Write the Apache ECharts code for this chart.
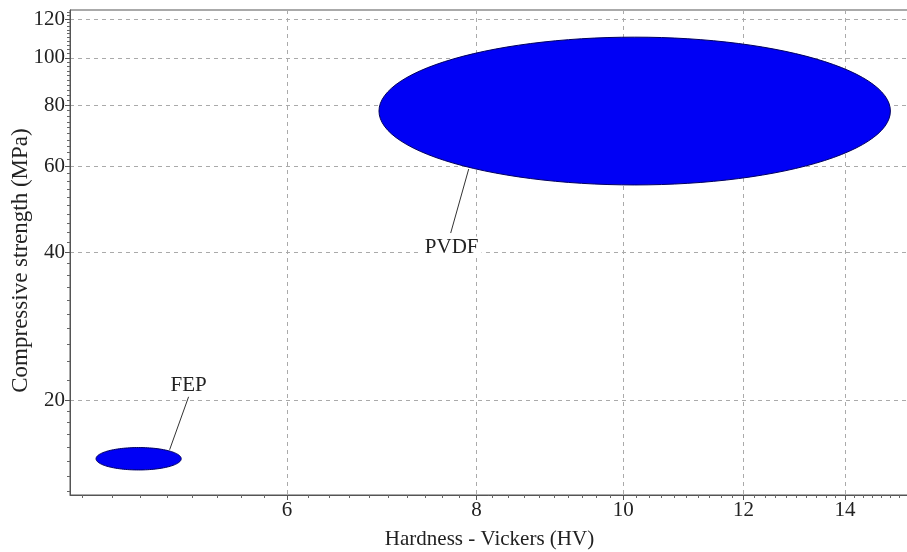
<!DOCTYPE html>
<html><head><meta charset="utf-8">
<script src="https://cdn.jsdelivr.net/npm/echarts@6/dist/echarts.min.js"></script>
<style>html,body{margin:0;padding:0;background:#fff}#c{width:907px;height:552px}</style>
</head><body><div id="c"></div>
<script>
// ---- data ----
const materials    = ['FEP', 'PVDF'];
const hardnessLow  = [4.49, 6.90];   // HV
const hardnessHigh = [5.11, 15.0];   // HV
const strengthLow  = [14.4, 55.0];   // MPa
const strengthHigh = [16.0, 110.2];  // MPa
const xTickValues  = [6, 8, 10, 12, 14];
const yTickValues  = [20, 40, 60, 80, 100, 120];
const xRange       = [4.316, 15.43];
const yRange       = [12.8, 125.2];

// ---- helpers ----
const lg = v => Math.log10(v);
const FONT = '"Liberation Serif", "Times New Roman", serif';
const TXT = '#222';

// minor tick positions (axis decoration)
const xMinor = [];
for (let v = 4.4; v < 15.4; v += 0.2) {
  const r = Math.round(v * 10) / 10;
  if (!xTickValues.some(t => Math.abs(t - r) < 1e-6)) xMinor.push(r);
}
const yMinor = [];
for (let v = 13; v < 20; v += 1) yMinor.push(v);
for (let v = 22; v < 125; v += 2) if (!yTickValues.includes(v)) yMinor.push(v);

// label / leader offsets relative to ellipse centre (style, px)
const labelStyle = [
  { line: [[31, -9], [50, -62]], text: [50, -73] },
  { line: [[-166, 58], [-184, 122]], text: [-183, 136] }
];

const seriesData = materials.map((m, i) => [
  lg(hardnessLow[i]), lg(hardnessHigh[i]), lg(strengthLow[i]), lg(strengthHigh[i])
]);

function axisCommon(range) {
  return { type: 'value', min: lg(range[0]), max: lg(range[1]) };
}

const chart = echarts.init(document.getElementById('c'), null, { renderer: 'canvas' });
chart.setOption({
  animation: false,
  backgroundColor: '#fff',
  grid: { left: 70, top: 10, right: -2, bottom: 57, show: true, borderColor: '#555', borderWidth: 1,
    containLabel: false, outerBoundsMode: 'none' },
  xAxis: [
    Object.assign(axisCommon(xRange), {
      position: 'bottom',
      name: 'Hardness - Vickers (HV)', nameLocation: 'middle', nameGap: 34, nameMoveOverlap: false,
      nameTextStyle: { fontFamily: FONT, fontSize: 21, color: TXT },
      axisLine: { show: true, lineStyle: { color: '#555' } },
      axisTick: { show: true, customValues: xTickValues.map(lg), length: 5, lineStyle: { color: '#555' } },
      axisLabel: { customValues: xTickValues.map(lg), formatter: v => String(Math.round(Math.pow(10, v))),
        fontFamily: FONT, fontSize: 21, color: TXT, margin: 5 },
      splitLine: { show: true, lineStyle: { type: [4, 4], color: '#aaa', width: 1 } }
    }),
    Object.assign(axisCommon(xRange), {
      position: 'bottom',
      axisLine: { show: false },
      axisTick: { show: true, customValues: xMinor.map(lg), length: 3, lineStyle: { color: '#666' } },
      axisLabel: { show: false },
      splitLine: { show: false }
    })
  ],
  yAxis: [
    Object.assign(axisCommon(yRange), {
      position: 'left',
      name: 'Compressive strength (MPa)', nameLocation: 'middle', nameGap: 38, nameMoveOverlap: false,
      nameTextStyle: { fontFamily: FONT, fontSize: 23, color: TXT, padding: [0, 16, 0, 0] },
      axisLine: { show: true, lineStyle: { color: '#555' } },
      axisTick: { show: true, customValues: yTickValues.map(lg), length: 5, lineStyle: { color: '#555' } },
      axisLabel: { customValues: yTickValues.map(lg), formatter: v => String(Math.round(Math.pow(10, v))),
        fontFamily: FONT, fontSize: 21, color: TXT, margin: 5 },
      splitLine: { show: true, lineStyle: { type: [4, 4], color: '#aaa', width: 1 } }
    }),
    Object.assign(axisCommon(yRange), {
      position: 'left',
      axisLine: { show: false },
      axisTick: { show: true, customValues: yMinor.map(lg), length: 3, lineStyle: { color: '#666' } },
      axisLabel: { show: false },
      splitLine: { show: false }
    })
  ],
  series: [{
    type: 'custom',
    xAxisIndex: 0, yAxisIndex: 0,
    clip: false,
    encode: { x: [0, 1], y: [2, 3] },
    data: seriesData,
    renderItem: function (params, api) {
      const i = params.dataIndex;
      const p1 = api.coord([api.value(0), api.value(2)]);
      const p2 = api.coord([api.value(1), api.value(3)]);
      const cx = (p1[0] + p2[0]) / 2, cy = (p1[1] + p2[1]) / 2;
      const rx = Math.abs(p2[0] - p1[0]) / 2, ry = Math.abs(p2[1] - p1[1]) / 2;
      const pts = [];
      for (let k = 0; k < 120; k++) {
        const a = k / 120 * Math.PI * 2;
        pts.push([cx + rx * Math.cos(a), cy + ry * Math.sin(a)]);
      }
      const s = labelStyle[i];
      return {
        type: 'group',
        children: [
          { type: 'polygon', shape: { points: pts }, style: { fill: '#0000f5', stroke: '#000060', lineWidth: 1 } },
          { type: 'line', shape: { x1: cx + s.line[0][0], y1: cy + s.line[0][1], x2: cx + s.line[1][0], y2: cy + s.line[1][1] },
            style: { stroke: '#333', lineWidth: 1 } },
          { type: 'text', x: cx + s.text[0], y: cy + s.text[1],
            style: { text: materials[i], font: '21px ' + FONT, fill: TXT, align: 'center', verticalAlign: 'middle',
              backgroundColor: '#fff', padding: [0, 3] } }
        ]
      };
    }
  }]
});
</script>
</body></html>
